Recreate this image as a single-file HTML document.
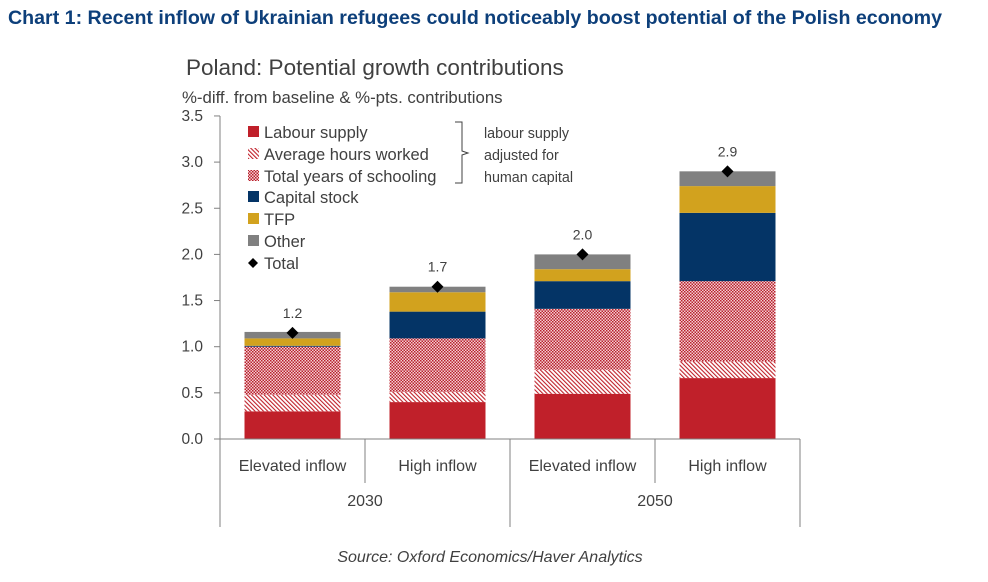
<!DOCTYPE html>
<html><head><meta charset="utf-8"><style>
body{margin:0;background:#fff;width:988px;height:577px;overflow:hidden;font-family:"Liberation Sans",sans-serif}
</style></head><body>
<svg width="988" height="577" viewBox="0 0 988 577" xmlns="http://www.w3.org/2000/svg">
<defs>
<pattern id="hatch" width="3" height="3" patternUnits="userSpaceOnUse" patternTransform="rotate(-45)">
<rect width="3" height="3" fill="#fff"/><rect width="1.1" height="3" fill="#c0202a"/></pattern>
<pattern id="dots" width="3" height="3" patternUnits="userSpaceOnUse">
<rect width="3" height="3" fill="#f3d0d3"/><rect width="1.5" height="1.5" fill="#b8202c"/><rect x="1.5" y="1.5" width="1.5" height="1.5" fill="#b8202c"/></pattern>
</defs>
<text x="8" y="24" font-size="19" font-weight="bold" fill="#0d3f7a" textLength="934" lengthAdjust="spacingAndGlyphs">Chart 1: Recent inflow of Ukrainian refugees could noticeably boost potential of the Polish economy</text>
<text x="186" y="75" font-size="22.5" fill="#404040">Poland: Potential growth contributions</text>
<text x="182" y="103" font-size="16.8" fill="#404040">%-diff. from baseline &amp; %-pts. contributions</text>
<g id="yaxis"></g>
<g id="bars"></g>
<g id="xaxis"></g>
<g font-size="16.5" fill="#404040">
<rect x="248" y="126" width="11" height="11" fill="#c0202a"/><text x="264" y="138">Labour supply</text>
<rect x="248" y="148" width="11" height="11" fill="url(#hatch)"/><text x="264" y="160">Average hours worked</text>
<rect x="248" y="170" width="11" height="11" fill="url(#dots)"/><text x="264" y="182">Total years of schooling</text>
<rect x="248" y="191" width="11" height="11" fill="#043466"/><text x="264" y="203">Capital stock</text>
<rect x="248" y="213" width="11" height="11" fill="#d2a21e"/><text x="264" y="225">TFP</text>
<rect x="248" y="235" width="11" height="11" fill="#808080"/><text x="264" y="247">Other</text>
<path d="M253 258 L258 263 L253 268 L248 263Z" fill="#000"/><text x="264" y="269">Total</text>
<path d="M455 122 H462 V151 L468 153 L462 155 V183 H455" fill="none" stroke="#404040" stroke-width="1"/>
<text x="484" y="138" font-size="14.3"><tspan x="484">labour supply</tspan><tspan x="484" dy="22">adjusted for</tspan><tspan x="484" dy="22">human capital</tspan></text>
</g>
<text x="490" y="562" font-size="16" font-style="italic" fill="#404040" text-anchor="middle">Source: Oxford Economics/Haver Analytics</text>
</svg>
<script>
const categories=["Elevated inflow","High inflow","Elevated inflow","High inflow"];
const groups=["2030","2050"];
const labour=[0.30,0.40,0.49,0.66];
const hours=[0.18,0.11,0.26,0.18];
const schooling=[0.52,0.58,0.66,0.87];
const capital=[0.01,0.29,0.30,0.74];
const tfp=[0.08,0.21,0.13,0.29];
const other=[0.07,0.06,0.16,0.16];
const totals=[1.15,1.65,2.0,2.9];
const totalLabels=["1.2","1.7","2.0","2.9"];
const yTicks=[0,0.5,1,1.5,2,2.5,3,3.5];
const NS="http://www.w3.org/2000/svg";
const y0=439,pxPer=92.3,left=220,slot=145,bw=96;
const y=v=>y0-v*pxPer;
const xc=i=>left+slot*i+slot/2;
function mk(t,a,p){const e=document.createElementNS(NS,t);for(const k in a)e.setAttribute(k,a[k]);p.appendChild(e);return e;}
const ya=document.getElementById('yaxis'),bars=document.getElementById('bars'),xa=document.getElementById('xaxis');
mk('line',{x1:left,x2:left,y1:y(3.5),y2:y0,stroke:'#808080'},ya);
yTicks.forEach(t=>{
 const l=mk('line',{x1:left-6,x2:left,y1:y(t),y2:y(t),stroke:'#808080'},ya);
 
 
 const tx=mk('text',{x:203,y:y(t)+5,'font-size':15.5,fill:'#404040','text-anchor':'end'},ya);
 tx.textContent=t.toFixed(1);
 
 
});
const series=[[labour,'#c0202a','labour'],[hours,'url(#hatch)','hours'],[schooling,'url(#dots)','schooling'],[capital,'#043466','capital'],[tfp,'#d2a21e','tfp'],[other,'#808080','other']];
categories.forEach((c,i)=>{
 let acc=0;
 series.forEach(([arr,col,nm])=>{
  const v=arr[i];
  const r=mk('rect',{x:xc(i)-bw/2,y:y(acc+v),width:bw,height:v*pxPer,fill:col},bars);
  
  
  acc+=v;
 });
 const ty=y(totals[i]);
 const d=mk('path',{d:`M${xc(i)} ${ty-6} L${xc(i)+6} ${ty} L${xc(i)} ${ty+6} L${xc(i)-6} ${ty}Z`,fill:'#000'},bars);
 
 
 const tl=mk('text',{x:xc(i),y:ty-15,'font-size':14,fill:'#404040','text-anchor':'middle'},bars);
 tl.textContent=totalLabels[i];
 
 
 const cl=mk('text',{x:xc(i),y:471,'font-size':16,fill:'#404040','text-anchor':'middle'},xa);
 cl.textContent=c;
 
 
});
mk('line',{x1:left,x2:left+slot*4,y1:y0,y2:y0,stroke:'#808080'},xa);
for(let k=0;k<=4;k++){
 const x=left+slot*k;
 mk('line',{x1:x,x2:x,y1:y0,y2:k%2==0?527:483,stroke:'#808080'},xa);
}
groups.forEach((g,j)=>{
 const t=mk('text',{x:left+slot*(2*j+1),y:506,'font-size':16,fill:'#404040','text-anchor':'middle'},xa);
 t.textContent=g;
 
 
});
</script>
</body></html>
